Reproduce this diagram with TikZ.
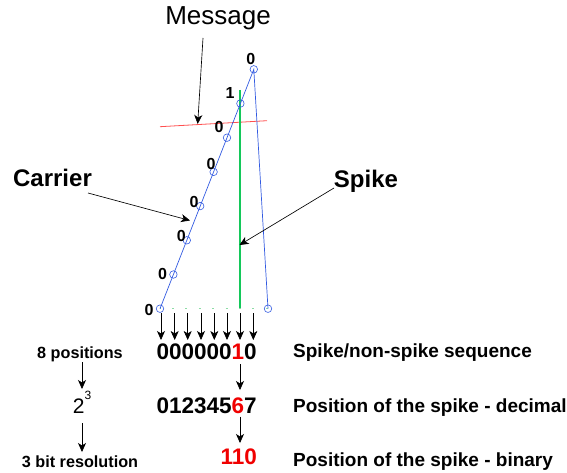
\documentclass[tikz,border=0pt]{standalone}
\usepackage{fontspec}
\setmainfont{Liberation Sans}
\usetikzlibrary{arrows.meta}
\definecolor{carrierblue}{RGB}{50,90,225}
\definecolor{spikegreen}{RGB}{20,200,90}
\definecolor{msgred}{RGB}{255,80,80}
\definecolor{dotgreen}{RGB}{140,220,165}
\definecolor{hotred}{RGB}{240,0,0}
\begin{document}
\begin{tikzpicture}[x=1pt,y=-1pt,
  ptr/.style={-{Stealth[length=9pt,width=8pt,inset=2.5pt]}, line width=0.65pt, black},
  bigbold/.style={inner sep=0pt, font=\fontsize{24}{24}\selectfont\bfseries},
  bigreg/.style={inner sep=0pt, font=\fontsize{26}{26}\selectfont},
  ptlabel/.style={inner sep=0pt, font=\fontsize{16}{16}\selectfont\bfseries},
  digits/.style={inner sep=0pt, anchor=base, font=\fontsize{22.5}{22.5}\selectfont\bfseries},
  lefttext/.style={inner sep=0pt, anchor=base, font=\fontsize{16.2}{16.2}\selectfont\bfseries},
  righttext/.style={inner sep=0pt, anchor=base west, font=\fontsize{19}{19}\selectfont\bfseries},
  dot/.style={circle, draw=carrierblue, line width=0.6pt, minimum size=7.5pt, inner sep=0pt}
]
\useasboundingbox (0,0) rectangle (567,473);
% message line
\coordinate (mL) at (160,126.7);
\coordinate (mR) at (267,120.7);
\draw[msgred, line width=0.8pt] (mL) -- (mR);
% spike
\coordinate (sT) at (240,90);
\coordinate (sB) at (240,308.7);
\draw[spikegreen, line width=2.8pt] (sT) -- (sB);
% baseline
\coordinate (b0) at (160,308.7);
\coordinate (bE) at (268,308.7);
\draw[dotgreen, line width=1.2pt, dash pattern=on 2pt off 11.4pt, dash phase=-12pt] (b0) -- (bE);
% carrier
\foreach \i in {0,...,7} {
  \coordinate (p\i) at ({160+13.4*\i},{308.7-34.2*\i});
}
\coordinate (pE) at (268,308.7);
\draw[carrierblue, line width=0.7pt] (p0) -- (p7) -- (pE);
\foreach \i in {0,...,7} { \node[dot] (d\i) at (p\i) {}; }
\node[dot] (dE) at (pE) {};
% point labels
\node[ptlabel] (l0) at (149,310) {0};
\node[ptlabel] (l1) at (162.5,273.5) {0};
\node[ptlabel] (l2) at (181.3,235.5) {0};
\node[ptlabel] (l3) at (194,201.7) {0};
\node[ptlabel] (l4) at (211,164) {0};
\node[ptlabel] (l5) at (219,127) {0};
\node[ptlabel] (l6) at (230,92.7) {1};
\node[ptlabel] (l7) at (250.7,59.3) {0};
% big labels
\node[bigreg] (message) at (218,18) {Message};
\node[bigbold] (carrier) at (52.5,178) {Carrier};
\node[bigbold] (spike) at (366,181.7) {Spike};
\coordinate (mA) at (203,38);
\coordinate (mZ) at (197.7,124);
\draw[ptr] (mA) -- (mZ);
\coordinate (cA) at (88,193);
\coordinate (cZ) at (190,220.5);
\draw[ptr] (cA) -- (cZ);
\coordinate (spA) at (334,188);
\coordinate (spZ) at (239.5,245);
\draw[ptr] (spA) -- (spZ);
% position arrows
\foreach \x [count=\k] in {161,174.7,187.7,201,214.3,227,240,253.3} {
  \coordinate (tA\k) at (\x,313);
  \coordinate (tZ\k) at (\x,340);
  \draw[ptr] (tA\k) -- (tZ\k);
}
% rows
\node[digits] (seq) at (206.7,359.5) {000000\textcolor{hotred}{1}0};
\node[digits] (dec) at (206.7,413) {012345\textcolor{hotred}{6}7};
\node[digits, text=hotred] (bin) at (238.7,464.7) {110};
\coordinate (r1A) at (240,364);
\coordinate (r1Z) at (240,390);
\draw[ptr] (r1A) -- (r1Z);
\coordinate (r2A) at (240,416.5);
\coordinate (r2Z) at (240,443);
\draw[ptr] (r2A) -- (r2Z);
\node[lefttext] (pos8) at (80,358.3) {8 positions};
\node[inner sep=0pt, anchor=base, font=\fontsize{21}{21}\selectfont] (pow) at (82,413) {2\raisebox{0.62em}{\fontsize{12}{12}\selectfont 3}};
\node[lefttext] (res) at (80,467.5) {3 bit resolution};
\coordinate (lA) at (82,362);
\coordinate (lZ) at (82,389);
\draw[ptr] (lA) -- (lZ);
\coordinate (lB) at (82,423);
\coordinate (lC) at (82,452);
\draw[ptr] (lB) -- (lC);
\node[righttext] (t1) at (293,357.5) {Spike/non-spike sequence};
\node[righttext] (t2) at (293,412) {Position of the spike - decimal};
\node[righttext] (t3) at (293,466) {Position of the spike - binary};
\end{tikzpicture}
\end{document}
